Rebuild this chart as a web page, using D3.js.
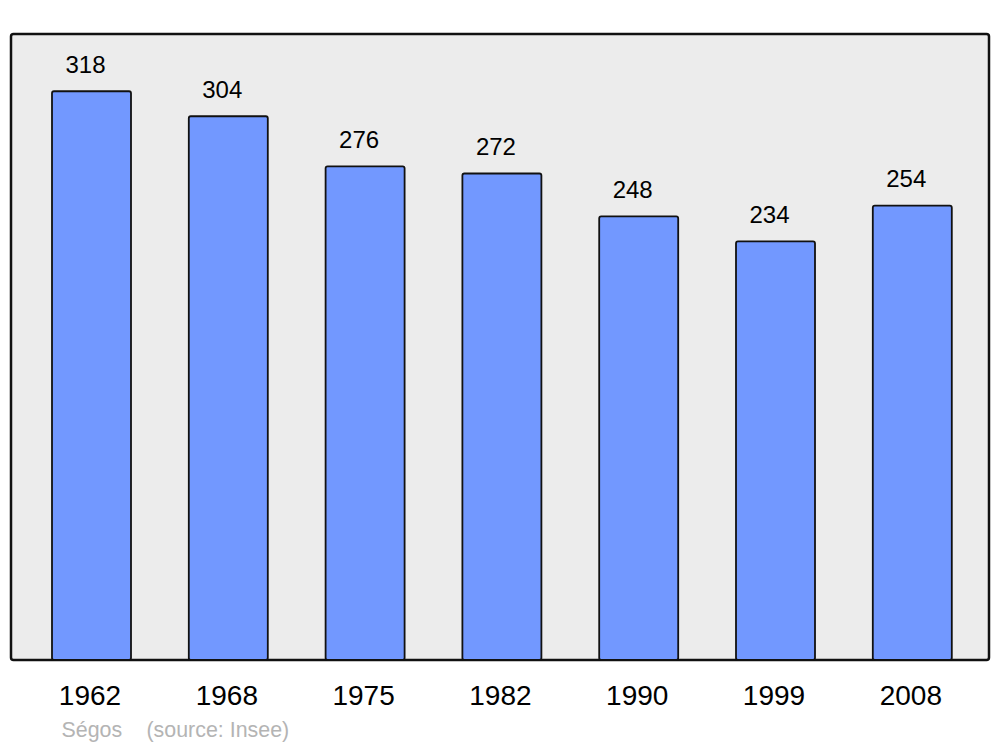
<!DOCTYPE html>
<html>
<head>
<meta charset="utf-8">
<script src="https://cdn.jsdelivr.net/npm/d3@7"></script>
<style>
html,body{margin:0;padding:0;background:#fff;}
svg{display:block;}
</style>
</head>
<body>
<svg id="chart" width="1000" height="747"></svg>
<script>
const years = ["1962","1968","1975","1982","1990","1999","2008"];
const population = [318,304,276,272,248,234,254];
const footerName = "Ségos";
const footerSource = "(source: Insee)";

const svg = d3.select("#chart");
const font = "'Liberation Sans', Arial, sans-serif";

const x = d3.scaleBand().domain(years).range([23.1, 980.7]).paddingInner(0.4225).paddingOuter(0.21125);
const y = d3.scaleLinear().domain([0, 350]).range([660, 34]);

svg.append("rect")
  .attr("x", 11).attr("y", 34)
  .attr("width", 978).attr("height", 626)
  .attr("rx", 2.5).attr("ry", 2.5)
  .attr("fill", "#ececec")
  .attr("stroke", "#111").attr("stroke-width", 2.5);

svg.selectAll("rect.bar").data(years).enter().append("rect")
  .attr("class", "bar")
  .attr("x", d => x(d))
  .attr("y", (d,i) => y(population[i]))
  .attr("width", x.bandwidth())
  .attr("height", (d,i) => y(0) - y(population[i]))
  .attr("rx", 2).attr("ry", 2)
  .attr("fill", "#7298ff")
  .attr("stroke", "#111").attr("stroke-width", 1.8);

svg.selectAll("text.val").data(years).enter().append("text")
  .attr("class", "val")
  .attr("x", d => x(d) + x.bandwidth()/2 - 6)
  .attr("y", (d,i) => y(population[i]) - 18.5)
  .attr("text-anchor", "middle")
  .attr("font-family", font).attr("font-size", 24)
  .attr("fill", "#000")
  .text((d,i) => population[i]);

const xAxis = d3.axisBottom(x).tickSize(0).tickPadding(0);
const gx = svg.append("g").attr("transform", "translate(0,660)").call(xAxis);
gx.select(".domain").remove();
gx.selectAll("text")
  .attr("dy", null).attr("y", 44.5)
  .attr("x", -1.5)
  .attr("font-family", font).attr("font-size", 28)
  .attr("fill", "#000");

svg.append("text").attr("x", 61.5).attr("y", 737)
  .attr("font-family", font).attr("font-size", 21.4).attr("fill", "#b4b4b4")
  .text(footerName);
svg.append("text").attr("x", 146.5).attr("y", 737)
  .attr("font-family", font).attr("font-size", 21.4).attr("fill", "#b4b4b4")
  .text(footerSource);
</script>
</body>
</html>
